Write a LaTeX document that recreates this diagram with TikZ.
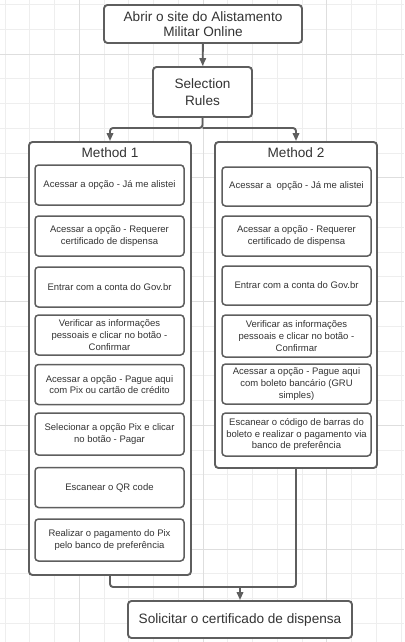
\documentclass[tikz,border=0pt]{standalone}
\usepackage{fontspec}
\setmainfont{Liberation Sans}
\usetikzlibrary{arrows.meta,positioning}
\definecolor{fline}{HTML}{5E5E5E}
\definecolor{ftext}{HTML}{333333}
\definecolor{fgrid}{HTML}{EEEEEE}
\definecolor{fgridmaj}{HTML}{DEDEDE}

\begin{document}
\begin{tikzpicture}[x=1pt, y=-1pt,
  big/.style={font=\fontsize{13.6}{15.5}\selectfont},
  small/.style={font=\fontsize{9.5}{11.7}\selectfont},
  box/.style={draw=fline, line width=1.9pt, rounded corners=3.5pt, fill=white,
              text=ftext, align=center, inner sep=0pt},
  ibox/.style={box, line width=1.5pt, small, minimum width=149pt, minimum height=40pt},
  flow/.style={draw=fline, line width=1.9pt, rounded corners=3pt,
               -{Triangle[length=8pt,width=6.5pt]}},
  wire/.style={draw=fline, line width=1.9pt, rounded corners=3pt}]
\useasboundingbox (0,0) rectangle (404,642);
\fill[white] (0,0) rectangle (404,642);
% ================= background grid =================
\foreach \i in {0,...,16}{\draw[fgrid, line width=0.9pt] ({5+24.75*\i},0) -- ({5+24.75*\i},642);}
\foreach \i in {0,...,25}{\draw[fgrid, line width=0.9pt] (0,{4.5+24.75*\i}) -- (404,{4.5+24.75*\i});}
\foreach \i in {3,8,13}{\draw[fgridmaj, line width=0.9pt] ({5+24.75*\i},0) -- ({5+24.75*\i},642);}
\foreach \i in {2,7,12,17,22}{\draw[fgridmaj, line width=0.9pt] (0,{4.5+24.75*\i}) -- (404,{4.5+24.75*\i});}
% ================= start =================
\node[box, big, minimum width=198pt, minimum height=38pt] (site) at (203,24)
   {Abrir o site do Alistamento\\Militar Online};
\node[box, big, font=\fontsize{13.6}{17}\selectfont, minimum width=99pt, minimum height=50pt] (rules) at (202.5,92)
   {Selection\\Rules};
\draw[flow] (site) -- (rules);
% ================= method 1 =================
\node[box, minimum width=162pt, minimum height=433pt] (m1) at (110,358.5) {};
\node[big, text=ftext] (t1) at (110,153) {Method 1};
\node[ibox] (a1) at (109.5,185)   {Acessar a opção - Já me alistei};
\node[ibox] (a2) at (109.5,236)   {Acessar a opção - Requerer\\certificado de dispensa};
\node[ibox] (a3) at (109.5,287)   {Entrar com a conta do Gov.br};
\node[ibox] (a4) at (109.5,335)   {Verificar as informações\\pessoais e clicar no botão -\\Confirmar};
\node[ibox] (a5) at (109.5,384.5) {Acessar a opção - Pague aqui\\com Pix ou cartão de crédito};
\node[ibox, minimum height=42pt] (a6) at (109.5,434) {Selecionar a opção Pix e clicar\\no botão - Pagar};
\node[ibox] (a7) at (109.5,487.5) {Escanear o QR code};
\node[ibox, minimum height=42pt] (a8) at (109.5,540) {Realizar o pagamento do Pix\\pelo banco de preferência};
% ================= method 2 =================
\node[box, minimum width=162pt, minimum height=326pt] (m2) at (296,305) {};
\node[big, text=ftext] (t2) at (296,153) {Method 2};
\node[ibox, minimum height=39pt] (b1) at (296.5,186.5) {Acessar a\ \ opção - Já me alistei};
\node[ibox] (b2) at (296.5,236)   {Acessar a opção - Requerer\\certificado de dispensa};
\node[ibox, minimum height=39pt] (b3) at (296.5,285.5) {Entrar com a conta do Gov.br};
\node[ibox, minimum height=42pt] (b4) at (296.5,336) {Verificar as informações\\pessoais e clicar no botão -\\Confirmar};
\node[ibox] (b5) at (296.5,384)   {Acessar a opção - Pague aqui\\com boleto bancário (GRU\\simples)};
\node[ibox, minimum height=43pt] (b6) at (296.5,434.5) {Escanear o código de barras do\\boleto e realizar o pagamento via\\banco de preferência};
% split into the two methods
\coordinate (split) at (202.5,128);
\draw[flow] (rules) -- (split) -| (m1);
\draw[flow] (split) -| (m2);
% ================= end =================
\node[box, big, minimum width=224pt, minimum height=37pt] (done) at (240,619.5)
   {Solicitar o certificado de dispensa};
\coordinate (join) at (240,587);
\draw[wire] (m1) |- (join);
\draw[wire] (m2) |- (join);
\draw[flow] (join) -- (done);
\end{tikzpicture}
\end{document}
